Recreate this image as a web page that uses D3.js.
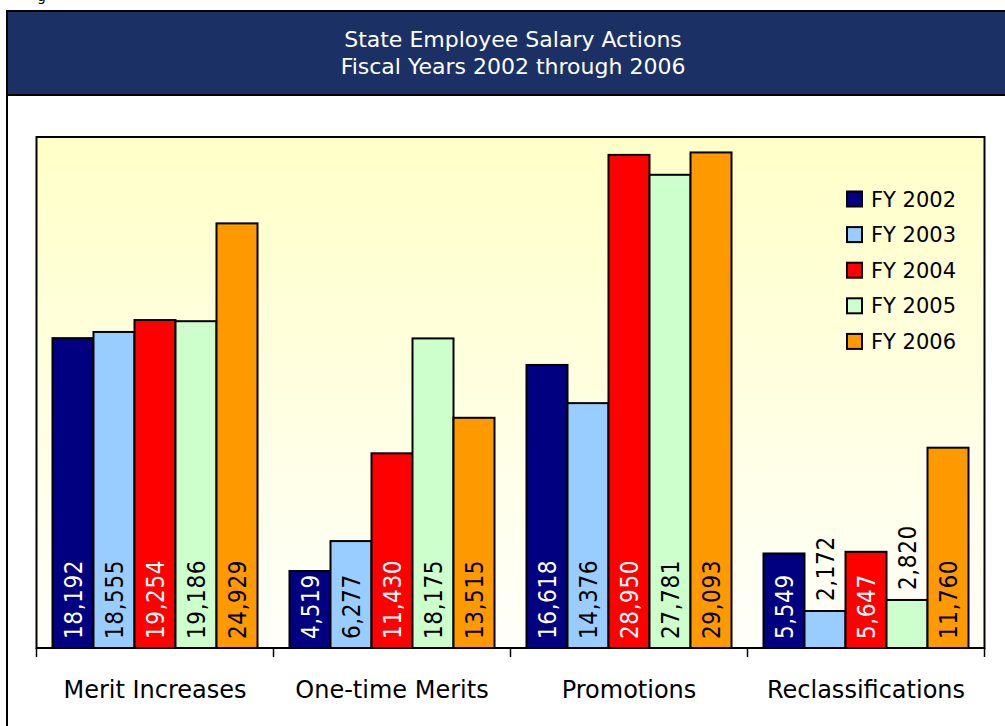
<!DOCTYPE html>
<html>
<head>
<meta charset="utf-8">
<script src="https://cdn.jsdelivr.net/npm/d3@7"></script>
<style>
  html, body { margin: 0; padding: 0; background: #fff; }
  svg { display: block; }
  text { font-family: "DejaVu Sans", sans-serif; }
  text.val { font-family: "DejaVu Sans Condensed", "DejaVu Sans", sans-serif; font-stretch: condensed; }
</style>
</head>
<body>
<svg id="chart" width="1005" height="726"></svg>
<script>
// ---- data ----
const titleLines = ["State Employee Salary Actions", "Fiscal Years 2002 through 2006"];
const categories = ["Merit Increases", "One-time Merits", "Promotions", "Reclassifications"];
const seriesNames = ["FY 2002", "FY 2003", "FY 2004", "FY 2005", "FY 2006"];
const fy2002 = [18192, 4519, 16618, 5549];
const fy2003 = [18555, 6277, 14376, 2172];
const fy2004 = [19254, 11430, 28950, 5647];
const fy2005 = [19186, 18175, 27781, 2820];
const fy2006 = [24929, 13515, 29093, 11760];
const seriesValues = [fy2002, fy2003, fy2004, fy2005, fy2006];
const seriesColors = ["#000080", "#99CCFF", "#FF0000", "#CCFFCC", "#FF9900"];
const labelColors = ["#FFFFFF", "#000000", "#FFFFFF", "#000000", "#000000"];
const yMax = 30000;

// ---- layout ----
const svg = d3.select("#chart");
const plot = { left: 36.5, top: 137, right: 984.5, bottom: 648 };

// outer frame
svg.append("rect").attr("x", 7).attr("y", 11).attr("width", 1100).attr("height", 800)
  .attr("fill", "#fff").attr("stroke", "#000").attr("stroke-width", 2);
// title band
svg.append("rect").attr("x", 7).attr("y", 11).attr("width", 1100).attr("height", 84)
  .attr("fill", "#1B3166").attr("stroke", "#000").attr("stroke-width", 2);
svg.append("text").attr("x", 37).attr("y", 1).attr("font-size", 14).attr("fill", "#000").text("g");

svg.selectAll("text.title").data(titleLines).join("text")
  .attr("class", "title")
  .attr("x", 513).attr("y", (d, i) => 47 + i * 27)
  .attr("text-anchor", "middle").attr("fill", "#fff").attr("font-size", 22)
  .text(d => d);

// gradient
const defs = svg.append("defs");
const grad = defs.append("linearGradient").attr("id", "bg").attr("x1", 0).attr("y1", 0).attr("x2", 0).attr("y2", 1);
grad.append("stop").attr("offset", "0%").attr("stop-color", "#FFFFC8");
grad.append("stop").attr("offset", "100%").attr("stop-color", "#FFFFFA");

svg.append("rect").attr("x", plot.left).attr("y", plot.top)
  .attr("width", plot.right - plot.left).attr("height", plot.bottom - plot.top)
  .attr("fill", "url(#bg)").attr("stroke", "#000").attr("stroke-width", 2);

// scales
const x0 = d3.scaleBand().domain(categories).range([plot.left, plot.right]).padding(0);
const x1 = d3.scaleBand().domain(seriesNames).range([0, x0.bandwidth()]).paddingInner(0).paddingOuter(0.39);
const y = d3.scaleLinear().domain([0, yMax]).range([plot.bottom, plot.top]);

// bars
const flat = [];
categories.forEach((c, ci) => {
  seriesNames.forEach((s, si) => {
    flat.push({ cat: c, ser: s, si: si, value: seriesValues[si][ci] });
  });
});

const fmt = d3.format(",");
const barG = svg.append("g");
barG.selectAll("rect").data(flat).join("rect")
  .attr("x", d => x0(d.cat) + x1(d.ser))
  .attr("y", d => y(d.value))
  .attr("width", x1.bandwidth())
  .attr("height", d => y(0) - y(d.value))
  .attr("fill", d => seriesColors[d.si])
  .attr("stroke", "#000").attr("stroke-width", 2);

// value labels (rotated)
const labelSize = 24;
barG.selectAll("text").data(flat).join("text")
  .attr("class", "val")
  .each(function (d) {
    const cx = x0(d.cat) + x1(d.ser) + x1.bandwidth() / 2;
    const h = y(0) - y(d.value);
    const inside = h > 75;
    const startY = inside ? y(0) - 9 : y(d.value) - 10;
    d3.select(this)
      .attr("transform", `translate(${cx},${startY}) rotate(-90)`)
      .attr("text-anchor", "start")
      .attr("dy", "0.36em")
      .attr("font-size", labelSize)
      .attr("letter-spacing", 0.6)
      .attr("fill", inside ? labelColors[d.si] : "#000")
      .text(fmt(d.value));
  });

// x axis ticks at category boundaries
const bounds = categories.map(c => x0(c)).concat([x0.range()[1]]);
svg.append("g").selectAll("line").data(bounds).join("line")
  .attr("x1", d => d).attr("x2", d => d)
  .attr("y1", plot.bottom).attr("y2", plot.bottom + 9)
  .attr("stroke", "#000").attr("stroke-width", 1.5);

svg.append("g").selectAll("text").data(categories).join("text")
  .attr("x", d => x0(d) + x0.bandwidth() / 2)
  .attr("y", 698)
  .attr("text-anchor", "middle").attr("font-size", 24).attr("fill", "#000")
  .text(d => d);

// legend
const lg = svg.append("g");
seriesNames.forEach((s, i) => {
  const cy = 199 + i * 35.6;
  lg.append("rect").attr("x", 847).attr("y", cy - 7.5).attr("width", 15).attr("height", 15)
    .attr("fill", seriesColors[i]).attr("stroke", "#000").attr("stroke-width", 2);
  lg.append("text").attr("x", 871).attr("y", cy).attr("dy", "0.36em")
    .attr("font-size", 21).attr("fill", "#000").text(s);
});
</script>
</body>
</html>
